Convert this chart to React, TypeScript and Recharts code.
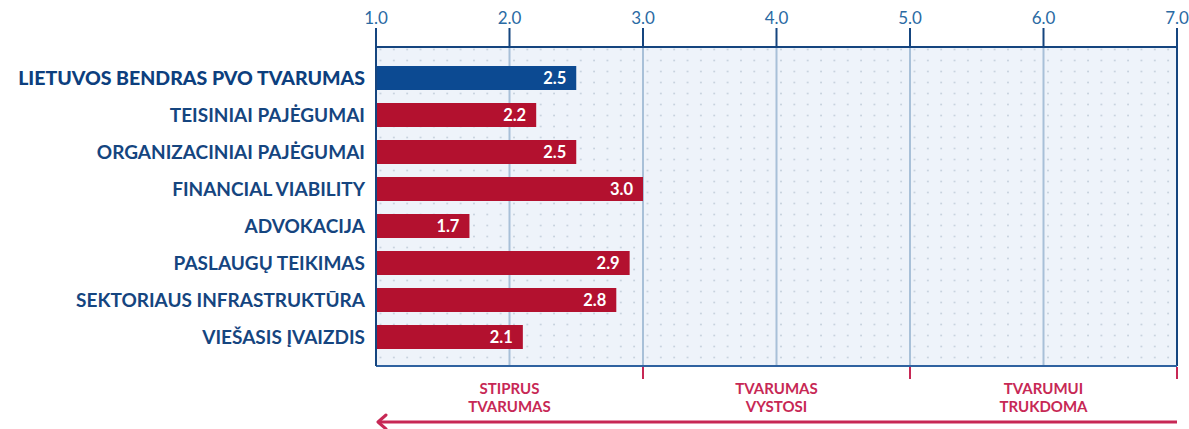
import { BarChart, Bar, XAxis, YAxis, CartesianGrid, Cell, LabelList, ReferenceLine } from "recharts";

const categories = [
  "LIETUVOS BENDRAS PVO TVARUMAS",
  "TEISINIAI PAJĖGUMAI",
  "ORGANIZACINIAI PAJĖGUMAI",
  "FINANCIAL VIABILITY",
  "ADVOKACIJA",
  "PASLAUGŲ TEIKIMAS",
  "SEKTORIAUS INFRASTRUKTŪRA",
  "VIEŠASIS ĮVAIZDIS",
];
const scores = [2.5, 2.2, 2.5, 3.0, 1.7, 2.9, 2.8, 2.1];
const scaleTicks = [1, 2, 3, 4, 5, 6, 7];
const zoneTicks = [2, 3, 4, 5, 6, 7];
const zoneNames: Record<number, string[]> = {
  2: ["STIPRUS", "TVARUMAS"],
  4: ["TVARUMAS", "VYSTOSI"],
  6: ["TVARUMUI", "TRUKDOMA"],
};

const data = categories.map((name, i) => ({ name, score: scores[i] }));

const NAVY = "#15457f";
const BLUE_BAR = "#0c4a92";
const RED_BAR = "#b3112f";
const RED = "#c72855";
const FONT = "Lato, 'Open Sans', sans-serif";

function CategoryTick(props: any) {
  const { x, y, payload } = props;
  const first = payload.index === 0;
  return (
    <text
      x={x}
      y={y}
      dy={7}
      textAnchor="end"
      fill={first ? "#0d3f7e" : NAVY}
      fontSize={first ? 19.5 : 19}
      fontWeight={first ? 900 : 700}
      fontFamily={FONT}
    >
      {payload.value}
    </text>
  );
}

// odd values get a red divider tick, even ones the zone name
function ZoneTick(props: any) {
  const { x, y, payload } = props;
  const v = payload.value;
  if (v % 2 === 1) {
    return <line x1={x} x2={x} y1={y} y2={y + 12} stroke={RED} strokeWidth={2} />;
  }
  const lines = zoneNames[v] || [];
  return (
    <text x={x} y={y} textAnchor="middle" fill={RED} fontSize={15} fontWeight={700} fontFamily={FONT}>
      {lines.map((l, i) => (
        <tspan key={i} x={x} y={y + 27 + i * 18}>
          {l}
        </tspan>
      ))}
    </text>
  );
}

function ArrowLabel(props: any) {
  const vb = props.viewBox || {};
  const { x = 0, y = 0, width = 0, height = 0 } = vb;
  const ay = y + height - 7;
  return (
    <g>
      <line x1={x + 2} x2={x + width} y1={ay} y2={ay} stroke={RED} strokeWidth={3} />
      <polyline
        points={`${x + 10},${ay - 7} ${x + 2},${ay} ${x + 10},${ay + 7}`}
        fill="none"
        stroke={RED}
        strokeWidth={3}
        strokeLinecap="round"
        strokeLinejoin="round"
      />
    </g>
  );
}

export default function App() {
  return (
    <div style={{ position: "absolute", left: 0, top: 0, background: "#fff" }}>
      <svg width={0} height={0} style={{ position: "absolute" }}>
        <defs>
          <pattern id="dots" width={13.35} height={11} patternUnits="userSpaceOnUse">
            <rect width={13.35} height={11} fill="#eef3fa" />
            <circle cx={6.7} cy={5.5} r={0.9} fill="#c3cedb" />
          </pattern>
        </defs>
      </svg>
      <BarChart
        width={1189}
        height={429}
        data={data}
        layout="vertical"
        margin={{ top: 0, right: 12, bottom: 0, left: 0 }}
      >
        <CartesianGrid
          horizontal={false}
          fill="url(#dots)"
          fillOpacity={1}
          stroke="#a8c0d8"
          strokeWidth={2}
          xAxisId="top"
        />
        <XAxis
          xAxisId="top"
          orientation="top"
          type="number"
          domain={[1, 7]}
          ticks={scaleTicks}
          interval={0}
          height={47}
          tickFormatter={(v: number) => v.toFixed(1)}
          tick={{ fill: "#2a6aa3", fontSize: 17, fontFamily: FONT }}
          tickSize={19}
          tickMargin={4}
          tickLine={{ stroke: NAVY, strokeWidth: 2 }}
          axisLine={{ stroke: NAVY, strokeWidth: 2 }}
        />
        <XAxis
          xAxisId="bottom"
          orientation="bottom"
          type="number"
          domain={[1, 7]}
          allowDataOverflow
          ticks={zoneTicks}
          interval={0}
          height={63}
          tick={(p: any) => <ZoneTick {...p} />}
          tickSize={1}
          tickMargin={0}
          tickLine={false}
          axisLine={{ stroke: "#2f62a0", strokeWidth: 2 }}
          label={{ content: (p: any) => <ArrowLabel {...p} /> }}
        />
        <YAxis
          type="category"
          dataKey="name"
          width={376}
          padding={{ top: 12, bottom: 11 }}
          tick={<CategoryTick />}
          tickSize={0}
          tickMargin={11}
          tickLine={false}
          axisLine={{ stroke: NAVY, strokeWidth: 2 }}
        />
        <ReferenceLine x={7} xAxisId="top" stroke={NAVY} strokeWidth={2} />
        <Bar dataKey="score" xAxisId="top" barSize={24} isAnimationActive={false}>
          {data.map((_, i) => (
            <Cell key={i} fill={i === 0 ? BLUE_BAR : RED_BAR} />
          ))}
          <LabelList
            dataKey="score"
            position="insideRight"
            offset={10}
            formatter={(v: any) => Number(v).toFixed(1)}
            style={{ fill: "#fff", fontSize: 16.5, fontWeight: 700, fontFamily: FONT }}
          />
        </Bar>
      </BarChart>
    </div>
  );
}
